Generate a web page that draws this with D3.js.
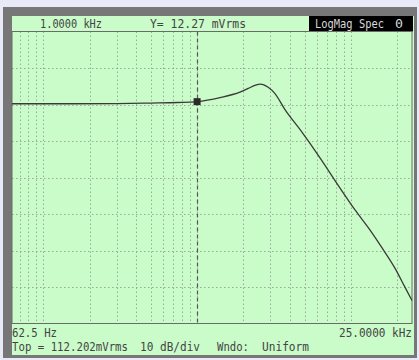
<!DOCTYPE html>
<html>
<head>
<meta charset="utf-8">
<script src="https://cdn.jsdelivr.net/npm/d3@7"></script>
<style>
body { margin: 0; background: #e8ebf7; }
text { font-family: 'DejaVu Sans Mono', 'Liberation Mono', monospace; }
</style>
</head>
<body>
<div id="scope"></div>
<script>
// trace, in dB below the top line
const traceFreqs = [62.5, 150, 300, 500, 750, 1000, 1410, 1900, 2150, 2400, 2570, 2720, 2900, 3210, 3730, 4680, 6300, 8510, 10650, 13340, 16210, 19400, 22530, 25000];
const traceLevels = [-19.8, -19.8, -19.75, -19.6, -19.45, -19.2, -18.1, -16.6, -15.6, -14.7, -14.4, -14.6, -15.3, -17.0, -21.4, -26.9, -34.6, -42.9, -48.9, -54.4, -59.7, -64.9, -70.1, -73.7];

const gridFreqs = [70, 80, 90, 100, 200, 300, 400, 500, 600, 700, 800, 900, 1000, 2000, 3000, 4000, 5000, 6000, 7000, 8000, 9000, 10000, 20000];
const gridLevels = [-10, -20, -30, -40, -50, -60, -70];

const freqRange = [62.5, 25000];
const levelRange = [0, -80];
const topValue = 112.202;   // mVrms
const cursorFreq = 1000;
const cursorValue = 12.27;  // mVrms

const headerFreq = '1.0000 kHz';
const headerY = 'Y= 12.27 mVrms';
const headerMode = 'LogMag Spec';
const headerTrace = '0';
const startLabel = '62.5 Hz';
const stopLabel = '25.0000 kHz';
const footerLabels = ['Top = 112.202mVrms', '10 dB/div', 'Wndo:', 'Uniform'];

function drawScope() {
    const W = 419, H = 360;
    const plot = { left: 12, right: 412, top: 31.5, bottom: 323.5 };

    const svg = d3.select('#scope').append('svg')
        .attr('width', W)
        .attr('height', H);

    // outer bezel + green screen
    svg.append('rect').attr('x', 3).attr('y', 7).attr('width', 414).attr('height', 351).attr('fill', '#777');
    svg.append('rect').attr('x', 12).attr('y', 16).attr('width', 402).attr('height', 339).attr('fill', '#cafcca');

    const x = d3.scaleLog().domain(freqRange).range([plot.left, plot.right]);
    const y = d3.scaleLinear().domain(levelRange).range([plot.top, plot.bottom]);

    // dotted grid
    svg.append('g').selectAll('line')
        .data(gridFreqs)
        .join('line')
        .attr('x1', d => Math.round(x(d)) + 0.5).attr('x2', d => Math.round(x(d)) + 0.5)
        .attr('y1', plot.top).attr('y2', plot.bottom)
        .attr('stroke', '#98aa98').attr('stroke-width', 1).attr('stroke-dasharray', '1.5,2.5');

    svg.append('g').selectAll('line')
        .data(gridLevels)
        .join('line')
        .attr('x1', plot.left).attr('x2', plot.right)
        .attr('y1', d => Math.round(y(d)) + 0.5).attr('y2', d => Math.round(y(d)) + 0.5)
        .attr('stroke', '#98aa98').attr('stroke-width', 1).attr('stroke-dasharray', '1.5,2.5');

    // plot frame
    svg.append('rect')
        .attr('x', plot.left).attr('y', plot.top)
        .attr('width', plot.right - plot.left).attr('height', plot.bottom - plot.top)
        .attr('fill', 'none').attr('stroke', '#6a6a6a').attr('stroke-width', 1);

    // cursor line
    const cx = Math.round(x(cursorFreq)) + 0.5;
    svg.append('line')
        .attr('x1', cx).attr('x2', cx).attr('y1', plot.top).attr('y2', plot.bottom)
        .attr('stroke', '#555').attr('stroke-width', 1.2).attr('stroke-dasharray', '4,3');

    // trace
    const line = d3.line()
        .x((d, i) => x(traceFreqs[i]))
        .y(d => y(d))
        .curve(d3.curveMonotoneX);

    svg.append('path')
        .datum(traceLevels)
        .attr('d', line)
        .attr('fill', 'none')
        .attr('stroke', '#3a3a3a')
        .attr('stroke-width', 1.3);

    // marker at the cursor
    const cursorLevel = 20 * Math.log10(cursorValue / topValue);
    svg.append('rect')
        .attr('x', x(cursorFreq) - 3.5).attr('y', y(cursorLevel) - 3.5)
        .attr('width', 7).attr('height', 7)
        .attr('fill', '#2a2a2a');

    // header bar
    svg.append('line').attr('x1', 12).attr('x2', 413).attr('y1', 31.5).attr('y2', 31.5).attr('stroke', '#6a6a6a');
    svg.append('rect').attr('x', 309).attr('y', 16).attr('width', 104).attr('height', 15).attr('fill', '#000');

    const txt = (s, tx, ty, opts = {}) => svg.append('text')
        .attr('x', tx).attr('y', ty)
        .attr('font-size', opts.size || 12)
        .attr('fill', opts.fill || '#444')
        .attr('text-anchor', opts.anchor || 'start')
        .attr('textLength', opts.len || null)
        .attr('lengthAdjust', 'spacingAndGlyphs')
        .text(s);

    txt(headerFreq, 40, 28, { len: 62 });
    txt(headerY, 150, 28, { len: 96 });
    txt(headerMode, 315, 28, { len: 69, fill: '#d8d8d8' });
    txt(headerTrace, 395, 28, { len: 8, fill: '#d8d8d8' });

    txt(startLabel, 12, 337, { len: 45 });
    txt(stopLabel, 412, 337, { len: 73, anchor: 'end' });

    txt(footerLabels[0], 12, 351, { len: 116 });
    txt(footerLabels[1], 140, 351, { len: 60 });
    txt(footerLabels[2], 217, 351, { len: 32 });
    txt(footerLabels[3], 262, 351, { len: 47 });
}

drawScope();
</script>
</body>
</html>
